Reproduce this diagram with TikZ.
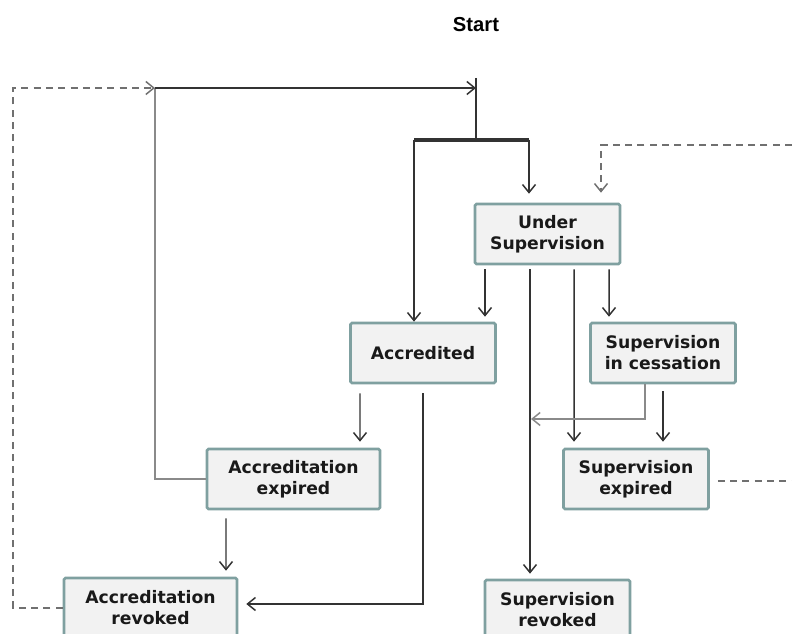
\documentclass[tikz,border=0pt]{standalone}
\usepackage{fontspec}
\newfontfamily\boxfont{DejaVu Sans}
\newfontfamily\startfont{Liberation Sans}
\usetikzlibrary{calc, arrows.meta}

\definecolor{boxfill}{HTML}{F2F2F2}
\definecolor{boxline}{HTML}{7FA0A0}
\definecolor{linedark}{HTML}{333333}
\definecolor{linegray}{HTML}{8A8A8A}
\definecolor{dashgray}{HTML}{707070}

\tikzset{
  state/.style={draw=boxline, fill=boxfill, line width=1.5pt, rounded corners=0.8pt,
    minimum height=1.2cm, align=center, inner sep=2pt, text=black!90,
    font=\boxfont\bfseries\fontsize{9.8}{12}\selectfont},
  narrow/.style={state, minimum width=2.9cm},
  wide/.style={state, minimum width=3.46cm},
  line/.style={draw=linedark, line width=0.85pt},
  flow/.style={line, -{Straight Barb[length=1.6mm,width=2.6mm]}},
  flowg/.style={flow, draw=linegray},
  back/.style={draw=dashgray, line width=0.85pt, dash pattern=on 4pt off 3pt},
  backflow/.style={back, -{Straight Barb[length=1.6mm,width=2.6mm]}},
}

\begin{document}
\begin{tikzpicture}[x=0.02cm, y=-0.02cm]
    \useasboundingbox (0,0) rectangle (792,634);

    % states
    \node[font=\startfont\bfseries\fontsize{11.5}{13}\selectfont] (start) at (476,25) {Start};
    \node[narrow] (under) at (547.5,234) {Under\\Supervision};
    \node[narrow] (accr) at (423,353) {Accredited};
    \node[narrow] (cess) at (663,353) {Supervision\\in cessation};
    \node[wide] (accexp) at (293.5,479) {Accreditation\\expired};
    \node[narrow] (supexp) at (636,479) {Supervision\\expired};
    \node[wide] (accrev) at (150.5,608) {Accreditation\\revoked};
    \node[narrow] (suprev) at (557.5,610) {Supervision\\revoked};

    \coordinate (begin) at (476,78);
    \coordinate (fork) at (476,140);
    \coordinate (forkL) at (414,140);
    \coordinate (forkR) at (529,140);
    \coordinate (loop) at (155,88);
    \coordinate (farL) at (13,88);
    \coordinate (inR) at (792,145);
    \coordinate (outR) at (792,481);
    \coordinate (merge) at (531,419);

    % start and fork
    \draw[line] (begin) -- (fork);
    \draw[line, line width=2.2pt] (forkL) -- (forkR);
    \draw[flow] (forkL) -- (forkL |- accr.north);
    \draw[flow, shorten >=9*0.02cm] (forkR) -- (forkR |- under.north);
    \draw[backflow] (inR) -| ($(under.north)+(53.5,-10)$);

    % loop back to start
    \draw[line, draw=linegray] (accexp.west) -| (loop);
    \draw[flow] (loop) -- (loop -| begin);
    \draw[backflow] (accrev.west) -| (farL) -- (loop);

    % from Under Supervision
    \draw[flow] ($(under.south)+(-62.5,4)$) -- ($(accr.north)+(62,-5)$);
    \draw[flow] ($(under.south)+(-17.5,4)$) -- ($(suprev.north)+(-27.5,-5)$);
    \draw[flow] ($(under.south)+(26.5,4)$) -- ($(supexp.north)+(-62,-6)$);
    \draw[flow] ($(under.south)+(61.5,4)$) -- ($(cess.north)+(-54,-5)$);

    % from Supervision in cessation
    \draw[flowg] ($(cess.south)+(-18,0)$) |- (merge);
    \draw[flow] ($(cess.south)+(0,7)$) -- ($(supexp.north)+(27,-6)$);
    \draw[back] ($(supexp.east)+(8,2)$) -- (outR);

    % from Accredited
    \draw[flow] ($(accr.south)+(-63,9)$) -- ($(accexp.north)+(66.5,-6)$);
    \draw[flow] ($(accr.south)+(0,9)$) |- ($(accrev.east)+(8,-4)$);

    % from Accreditation expired
    \draw[flow] ($(accexp.south)+(-67.5,8)$) -- ($(accrev.north)+(75.5,-6)$);
\end{tikzpicture}
\end{document}
